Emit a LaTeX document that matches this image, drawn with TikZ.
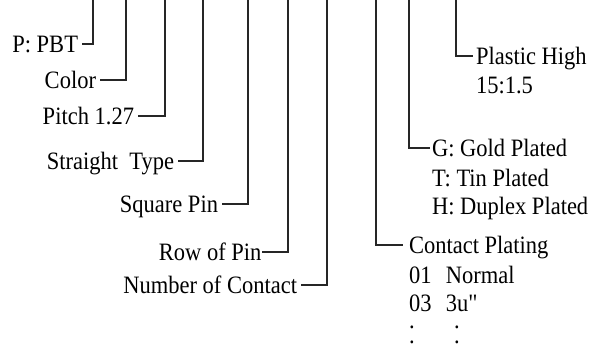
\documentclass[tikz,border=0pt]{standalone}
\usepackage{fontspec}
\setmainfont{Liberation Serif}[FakeStretch=0.9]
\newfontfamily\rawserif{Liberation Serif}[FakeStretch=0.9]
\usetikzlibrary{positioning}
\tikzset{
  lab/.style={
    inner xsep=4pt, inner ysep=0pt, outer sep=0pt,
    text height=16.6pt, text depth=0pt,
    font=\fontsize{25}{30}\selectfont,
  },
  dotrow/.style={lab, text height=3pt},
  wire/.style={line width=1.3pt, color=black!85},
}

\begin{document}
\begin{tikzpicture}[x=1pt, y=-1pt]
  \useasboundingbox (0,0) rectangle (593,347);

  % top ends of the code lines
  \coordinate (t1) at (93,0);
  \coordinate (t2) at (126,0);
  \coordinate (t3) at (165,0);
  \coordinate (t4) at (203,0);
  \coordinate (t5) at (248,0);
  \coordinate (t6) at (288,0);
  \coordinate (t7) at (327,0);
  \coordinate (t8) at (376,0);
  \coordinate (t9) at (409,0);
  \coordinate (t10) at (456,0);

  % left labels
  \node[lab, anchor=east] (pbt) at (82,44) {P: PBT};
  \node[lab, anchor=east] (color) at (100,80) {Color};
  \node[lab, anchor=east] (pitch) at (138,116) {Pitch 1.27};
  \node[lab, anchor=east] (straight) at (178,161) {Straight\ \ Type};
  \node[lab, anchor=east] (square) at (222,204) {Square Pin};
  \node[lab, anchor=east, inner xsep=0.5pt] (rowpin) at (262,252) {Row of Pin};
  \node[lab, anchor=east] (number) at (301,285) {Number of Contact};

  % right labels
  \node[lab, anchor=west, inner xsep=3pt] (plastic) at (473,56) {Plastic High};
  \node[lab, anchor=west, inner xsep=3pt] (ratio) at (473,85) {15:1.5};
  \node[lab, anchor=west, inner xsep=2pt] (gold) at (430,148) {G: Gold Plated};
  \node[lab, anchor=west, inner xsep=2pt] (tin) at (430,178) {T: Tin Plated};
  \node[lab, anchor=west, inner xsep=2pt] (duplex) at (430,206) {H: Duplex Plated};
  \node[lab, anchor=west, inner xsep=6pt] (cplate) at (403,245) {Contact Plating};
  \node[lab, anchor=west, inner xsep=6pt] (normal) at (403,275) {\makebox[37pt][l]{01}Normal};
  \node[lab, anchor=west, inner xsep=6pt] (thick) at (403,303) {\makebox[37pt][l]{03}{\rawserif 3u"}};
  \node[dotrow, anchor=west, inner xsep=6pt] (dotsa) at (403,327) {\makebox[45pt][l]{.}.};
  \node[dotrow, anchor=west, inner xsep=6pt] (dotsb) at (403,342) {\makebox[45pt][l]{.}.};

  % connectors
  \draw[wire] (t1) |- (pbt);
  \draw[wire] (t2) |- (color);
  \draw[wire] (t3) |- (pitch);
  \draw[wire] (t4) |- (straight);
  \draw[wire] (t5) |- (square);
  \draw[wire] (t6) |- (rowpin);
  \draw[wire] (t7) |- (number);
  \draw[wire] (t8) |- (cplate);
  \draw[wire] (t9) |- (gold);
  \draw[wire] (t10) |- (plastic);

\end{tikzpicture}
\end{document}
